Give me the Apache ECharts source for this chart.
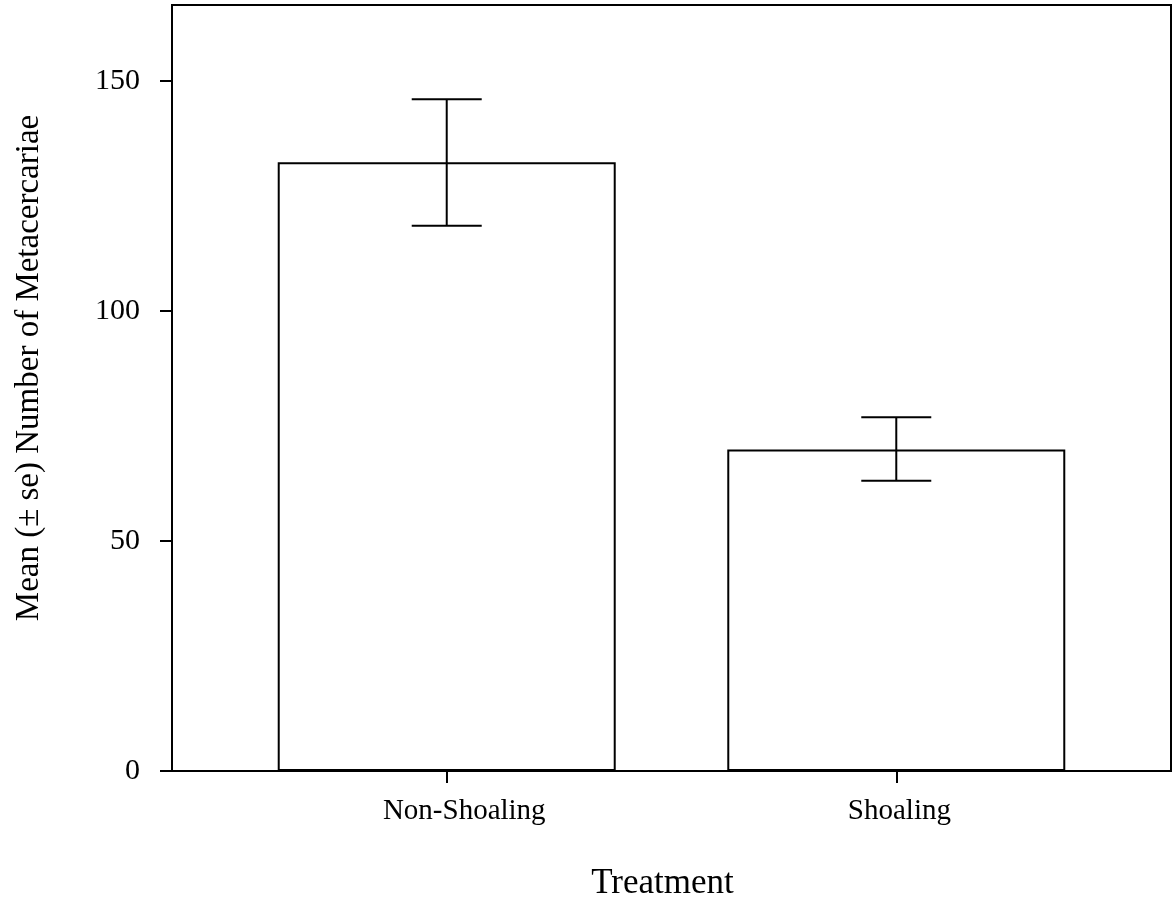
<!DOCTYPE html>
<html>
<head>
<meta charset="utf-8">
<script src="https://cdn.jsdelivr.net/npm/echarts@6/dist/echarts.min.js"></script>
<style>
html,body{margin:0;padding:0;background:#fff;}
#chart{width:1174px;height:903px;}
</style>
</head>
<body>
<div id="chart"></div>
<script>
// Data
var categories = ['Non-Shoaling', 'Shoaling'];
var categoryPos = [1, 2];
var labelPos = [1.039, 2.007];
var means = [132.3, 69.9];
var upper = [146.0, 76.9];
var lower = [118.5, 63.1];
var yTicks = [0, 50, 100, 150];

var barData = categoryPos.map(function (p, i) { return [p, means[i]]; });
var errData = categoryPos.map(function (p, i) { return [p, lower[i], upper[i]]; });

var FONT = 'Liberation Serif';
var chart = echarts.init(document.getElementById('chart'), null, { renderer: 'canvas' });

chart.setOption({
  backgroundColor: '#ffffff',
  animation: false,
  grid: {
    left: 172, top: 5, width: 999, height: 766,
    containLabel: false, outerBoundsMode: 'none',
    show: true, borderColor: '#000', borderWidth: 2, backgroundColor: 'transparent'
  },
  xAxis: {
    type: 'value',
    min: 0.3889, max: 2.6111,
    splitLine: { show: false },
    axisLine: { show: true, lineStyle: { color: '#000', width: 2 } },
    axisTick: { show: true, customValues: categoryPos, length: 12, inside: false, lineStyle: { color: '#000', width: 2 } },
    axisLabel: {
      customValues: labelPos,
      formatter: function (v) {
        for (var i = 0; i < labelPos.length; i++) { if (Math.abs(v - labelPos[i]) < 1e-6) return categories[i]; }
        return '';
      },
      fontFamily: FONT, fontSize: 29, color: '#000', margin: 26
    },
    name: 'Treatment',
    nameLocation: 'middle',
    nameGap: 95,
    nameTextStyle: { fontFamily: FONT, fontSize: 35, color: '#000', padding: [0, 18, 0, 0] }
  },
  yAxis: {
    type: 'value',
    min: 0, max: 166.5,
    splitLine: { show: false },
    axisLine: { show: true, lineStyle: { color: '#000', width: 2 } },
    axisTick: { show: true, customValues: yTicks, length: 12, lineStyle: { color: '#000', width: 2 } },
    axisLabel: { customValues: yTicks, fontFamily: FONT, fontSize: 30, color: '#000', margin: 32 },
    name: 'Mean (\u00b1 se) Number of Metacercariae',
    nameLocation: 'middle',
    nameGap: 126,
    nameRotate: 90,
    nameTextStyle: { fontFamily: FONT, fontSize: 33, color: '#000', padding: [0, 0, 0, 40] }
  },
  series: [
    {
      type: 'bar',
      data: barData,
      barWidth: 338,
      itemStyle: { color: '#fff', borderColor: '#000', borderWidth: 2 },
      z: 2
    },
    {
      type: 'custom',
      data: errData,
      z: 3,
      renderItem: function (params, api) {
        var x = api.value(0);
        var lo = api.coord([x, api.value(1)]);
        var hi = api.coord([x, api.value(2)]);
        var hw = 35;
        var style = { stroke: '#000', lineWidth: 2 };
        return {
          type: 'group',
          children: [
            { type: 'line', shape: { x1: lo[0], y1: lo[1], x2: hi[0], y2: hi[1] }, style: style },
            { type: 'line', shape: { x1: hi[0] - hw, y1: hi[1], x2: hi[0] + hw, y2: hi[1] }, style: style },
            { type: 'line', shape: { x1: lo[0] - hw, y1: lo[1], x2: lo[0] + hw, y2: lo[1] }, style: style }
          ]
        };
      }
    }
  ]
});
</script>
</body>
</html>
